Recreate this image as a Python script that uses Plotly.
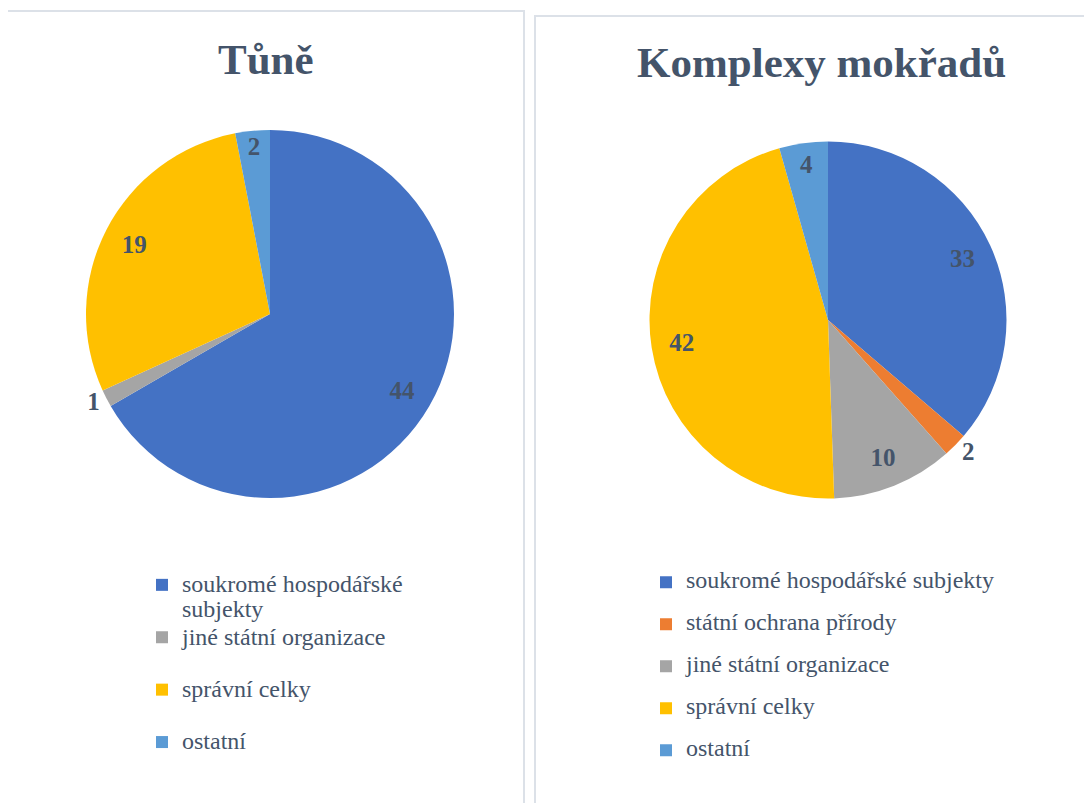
import textwrap

import plotly.graph_objects as go

# --- data ------------------------------------------------------------------
tune_categories = ["soukromé hospodářské subjekty", "jiné státní organizace",
                   "správní celky", "ostatní"]
tune_values = [44, 1, 19, 2]

mokrady_categories = ["soukromé hospodářské subjekty", "státní ochrana přírody",
                      "jiné státní organizace", "správní celky", "ostatní"]
mokrady_values = [33, 2, 10, 42, 4]

titles = ["Tůně", "Komplexy mokřadů"]

# --- styling ----------------------------------------------------------------
W, H = 1092, 803
OFF = 8  # the page body adds an 8px margin around the figure
SERIF = "Liberation Serif"
TEXT = "#44546A"
FRAME = "#DCE1E8"
colors = {
    "soukromé hospodářské subjekty": "#4472C4",
    "státní ochrana přírody": "#ED7D31",
    "jiné státní organizace": "#A5A5A5",
    "správní celky": "#FFC000",
    "ostatní": "#5B9BD5",
}


def px_x(v):
    return (v - OFF) / W


def px_y(v):
    return 1 - (v - OFF) / H


def legend_label(name, style, wrap=None):
    # each entry is two lines high so the legend rows get Excel-like spacing
    lines = textwrap.wrap(name, wrap) if wrap else [name]
    lines += ["&nbsp;"] * (2 - len(lines))
    return "<br>".join(f'<span style="{style}">{ln}</span>' for ln in lines)


def add_pie(fig, cats, vals, x0, x1, y0, y1, legend, style, wrap, text_pos):
    domain = dict(x=[px_x(x0), px_x(x1)], y=[px_y(y1), px_y(y0)])
    fig.add_trace(go.Pie(
        labels=[legend_label(c, style, wrap) for c in cats],
        values=vals,
        marker=dict(colors=[colors[c] for c in cats], line=dict(width=0)),
        sort=False,
        direction="clockwise",
        textinfo="none",
        hovertemplate="%{value}<extra></extra>",
        domain=domain,
        legend=legend,
    ))
    # transparent ring on top carries the value labels near the rim
    fig.add_trace(go.Pie(
        labels=cats,
        values=vals,
        hole=0.66,
        marker=dict(colors=["rgba(0,0,0,0)"] * len(cats), line=dict(width=0)),
        sort=False,
        direction="clockwise",
        texttemplate="%{value}",
        textposition=text_pos,
        insidetextorientation="horizontal",
        textfont=dict(family=SERIF, size=25, color=TEXT, weight="bold"),
        hoverinfo="skip",
        showlegend=False,
        domain=domain,
    ))


fig = go.Figure()
add_pie(fig, tune_categories, tune_values, 86, 454, 130, 498, "legend",
        "font-size:24px", 22, ["inside", "outside", "inside", "inside"])
add_pie(fig, mokrady_categories, mokrady_values, 649.5, 1006.5, 141.5, 498.5, "legend2",
        f"font-size:24px;color:{TEXT}", None,
        ["inside", "outside", "inside", "inside", "inside"])

for text, cx, cy in [(titles[0], 266, 59.5), (titles[1], 821, 62.5)]:
    fig.add_annotation(text=text, x=px_x(cx), y=px_y(cy), xref="paper", yref="paper",
                       showarrow=False, xanchor="center", yanchor="middle",
                       font=dict(family=SERIF, size=43, color=TEXT, weight="bold"))

for x0, y0, x1 in [(7, 11, 524), (535, 16, 1130)]:
    fig.add_shape(type="rect", xref="paper", yref="paper",
                  x0=px_x(x0), x1=px_x(x1), y0=px_y(y0), y1=px_y(830),
                  line=dict(color=FRAME, width=2), fillcolor="rgba(0,0,0,0)", layer="below")

fig.update_layout(
    width=W, height=H,
    margin=dict(l=0, r=0, t=0, b=0),
    paper_bgcolor="white",
    plot_bgcolor="white",
    legend=dict(x=px_x(142), y=px_y(566), xanchor="left", yanchor="top",
                font=dict(family=SERIF, size=19, color=TEXT), valign="top",
                bgcolor="rgba(0,0,0,0)"),
    legend2=dict(x=px_x(646), y=px_y(566), xanchor="left", yanchor="top",
                 font=dict(family=SERIF, size=15, color=TEXT), valign="top",
                 bgcolor="rgba(0,0,0,0)"),
)

fig.write_html("out.html")
